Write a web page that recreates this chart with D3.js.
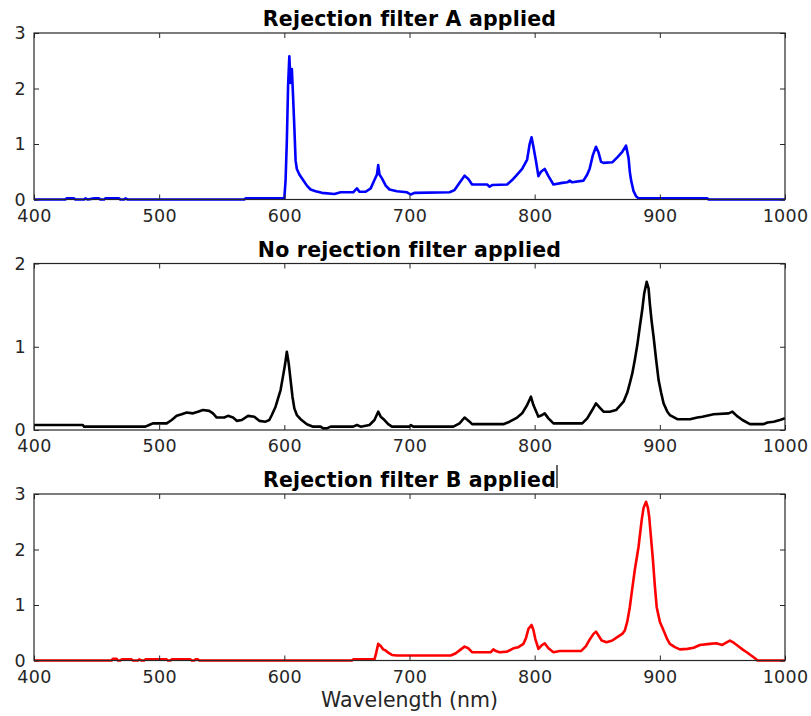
<!DOCTYPE html>
<html lang="en">
<head>
    <meta charset="UTF-8">
    <title>Rejection filters</title>
    <script src="https://d3js.org/d3.v7.min.js"></script>
    <style>
        body { margin: 0; background: #fff; }
        text { font-family: "DejaVu Sans", sans-serif; }
    </style>
</head>
<body>
    <svg width="811" height="716"></svg>

    <script>
    // x ticks shared by all three panels
    var xTicks = [400, 500, 600, 700, 800, 900, 1000]

    // panel 1 - rejection filter A (blue)
    var wlA = [400,425,426,432,433,440,441,443,448,452,453,456,457,468,469,472,473,475,568,569,600,
        601,602,603,604,605,606,607,608,609,610,612,615,618,621,625,630,640,645,655,658,660,665,669,
        672,674,675,676,678,681,684,690,698,701,704,732,736,740,744,747,750,762,764,766,778,782,786,
        790,794,796,797.5,799,801,803,805,808,811,815,822,826,828,830,839,842,844,846.5,849,851,853,
        855,862,866,870,873,875,876,877,879,881,883,938,939,1000]
    var valA = [0,0,0.02,0.02,0,0,0.02,0,0.02,0.02,0,0,0.02,0.02,0,0,0.02,0,0,0.02,0.02,
        0.35,1.05,2.05,2.58,2.1,2.35,1.85,1.3,0.7,0.55,0.45,0.35,0.25,0.18,0.15,0.12,0.1,0.13,0.13,0.2,0.14,0.14,0.2,
        0.35,0.45,0.62,0.45,0.38,0.25,0.18,0.15,0.13,0.09,0.12,0.13,0.17,0.3,0.43,0.37,0.27,0.27,0.23,0.26,0.27,0.35,0.45,
        0.55,0.72,1.0,1.12,0.95,0.7,0.42,0.5,0.55,0.42,0.27,0.3,0.31,0.34,0.31,0.34,0.45,0.56,0.8,0.95,0.85,0.68,
        0.66,0.67,0.76,0.86,0.97,0.75,0.5,0.35,0.15,0.06,0.02,0.02,0,0]
    var yTicksA = [0, 1, 2, 3]

    // panel 2 - no rejection filter (black)
    var wlN = [400,439,440,489,492,495,506,510,514,518,522,527,531,535,540,543,546,552,555,559,562,566,
        571,576,580,585,588,590,593,595,597,599,600.5,602,603.5,605,606.5,608,610,613,618,623,629,631,
        634,637,655,658,661,668,672,675,677,680,683,686,700,701,703,735,740,744,748,750,775,780,786,790,
        794,797,799,803,806,808,811,815,838,842,846,849,852,855,860,865,871,874,876,878,880,882,884,886,
        887.5,889.5,891,892,893.5,895,897,899,901,903,906,908,914,924,930,934,943,955,958,961.5,966,972,
        983,986,991,996,1000]
    var valN = [0.06,0.06,0.04,0.04,0.06,0.08,0.08,0.12,0.17,0.19,0.21,0.2,0.22,0.24,0.23,0.2,0.15,0.15,0.17,0.15,0.11,0.12,
        0.17,0.16,0.11,0.1,0.12,0.18,0.28,0.38,0.48,0.65,0.78,0.94,0.8,0.6,0.4,0.26,0.18,0.13,0.07,0.04,0.04,0.02,
        0.02,0.04,0.04,0.06,0.04,0.06,0.12,0.22,0.16,0.12,0.07,0.04,0.04,0.06,0.04,0.04,0.08,0.15,0.1,0.07,0.07,0.1,0.15,0.2,
        0.3,0.4,0.3,0.16,0.18,0.2,0.14,0.08,0.08,0.14,0.24,0.32,0.27,0.22,0.22,0.24,0.34,0.45,0.56,0.68,0.84,1.02,1.24,1.45,
        1.64,1.78,1.7,1.52,1.3,1.12,0.85,0.6,0.45,0.32,0.22,0.18,0.13,0.13,0.15,0.16,0.19,0.2,0.22,0.17,0.12,0.07,
        0.07,0.09,0.1,0.12,0.14]
    var yTicksN = [0, 1, 2]

    // panel 3 - rejection filter B (red)
    var wlB = [400,462,463,466,467,469,470,478,479,483,484,486,488,489,506,507,509,510,525,526,528,529,531,532,
        654,655,672,673,675,677,679,681,683,686,690,733,737,741,744,747,750,765,767,769,772,778,783,787,791,
        793,795,797.5,799,800.5,803,806,808,811,815,820,837,841,844,847,849,851,853.5,857.5,862,866,870,872,
        874,876,878,880,883,885.5,887,889,890.5,891.5,893,894.5,896,897.5,900,903,906,908,912,916,922,927,932,
        940,945,950,953,956,959,962,966,970,973,976,978,1000]
    var valB = [0,0,0.03,0.03,0,0,0.02,0.02,0,0,0.02,0,0,0.02,0.02,0,0,0.02,0.02,0,0,0.02,0.02,0,
        0,0.02,0.02,0.1,0.3,0.26,0.2,0.18,0.14,0.1,0.09,0.09,0.13,0.2,0.25,0.22,0.15,0.15,0.2,0.17,0.15,0.16,0.22,0.24,0.3,
        0.4,0.57,0.64,0.55,0.39,0.21,0.28,0.31,0.22,0.15,0.17,0.17,0.26,0.38,0.48,0.52,0.45,0.36,0.33,0.36,0.42,0.48,0.54,
        0.7,0.96,1.3,1.63,2.05,2.53,2.75,2.86,2.75,2.59,2.2,1.81,1.35,0.96,0.7,0.54,0.38,0.3,0.24,0.2,0.21,0.23,0.28,
        0.3,0.31,0.28,0.32,0.36,0.32,0.27,0.2,0.14,0.09,0.04,0,0]
    var yTicksB = [0, 1, 2, 3]

    var panels = [
        {title: "Rejection filter A applied", wl: wlA, val: valA, ticks: yTicksA, color: "#0000ff", top: 33},
        {title: "No rejection filter applied", wl: wlN, val: valN, ticks: yTicksN, color: "#000000", top: 263.5},
        {title: "Rejection filter B applied", wl: wlB, val: valB, ticks: yTicksB, color: "#ff0000", top: 494}
    ]

    var left = 34, right = 785, h = 166.5
    var axisColor = "#262626"
    var svg = d3.select("svg")

    var xscale = d3.scaleLinear().domain([400, 1000]).range([left, right])

    panels.forEach(function(p) {
        var yscale = d3.scaleLinear().domain([0, d3.max(p.ticks)]).range([p.top + h, p.top])
        var g = svg.append("g")

        // data line
        var pts = p.wl.map((w, i) => [w, p.val[i]])
        var line = d3.line().x(d => xscale(d[0])).y(d => yscale(d[1]))
        g.append("path").datum(pts)
            .attr("d", line)
            .attr("fill", "none")
            .attr("stroke", p.color)
            .attr("stroke-width", 2.6)
            .attr("stroke-linejoin", "round")

        // axes, ticks pointing inward like matlab
        var bottom = g.append("g").attr("transform", "translate(0," + yscale(0) + ")")
            .call(d3.axisBottom(xscale).tickValues(xTicks).tickSize(-5).tickPadding(10).tickFormat(d3.format("d")))
        var topAx = g.append("g").attr("transform", "translate(0," + p.top + ")")
            .call(d3.axisTop(xscale).tickValues(xTicks).tickSize(-5).tickFormat(""))
        var leftAx = g.append("g").attr("transform", "translate(" + left + ",0)")
            .call(d3.axisLeft(yscale).tickValues(p.ticks).tickSize(-5).tickPadding(8).tickFormat(d3.format("d")))
        var rightAx = g.append("g").attr("transform", "translate(" + right + ",0)")
            .call(d3.axisRight(yscale).tickValues(p.ticks).tickSize(-5).tickFormat(""))
        ;[bottom, topAx, leftAx, rightAx].forEach(a => {
            a.select(".domain").remove()
            a.selectAll("line").attr("stroke", axisColor)
            a.selectAll("text").attr("fill", axisColor)
                .style("font-size", "17.5px").style("letter-spacing", "0.3px")
        })

        g.append("rect")
            .attr("x", left).attr("y", p.top)
            .attr("width", right - left).attr("height", h)
            .attr("fill", "none").attr("stroke", axisColor).attr("stroke-width", 1.2)

        g.append("text")
            .attr("x", (left + right) / 2)
            .attr("y", p.top - 7)
            .attr("text-anchor", "middle")
            .style("font-size", "20.5px")
            .style("letter-spacing", "0.2px")
            .style("font-weight", "bold")
            .attr("fill", "#000")
            .text(p.title)
    })

    // the text cursor left behind after the last title
    svg.append("line")
        .attr("x1", 557).attr("x2", 557)
        .attr("y1", 465).attr("y2", 488)
        .attr("stroke", "#000").attr("stroke-width", 1.2)

    svg.append("text")
        .attr("x", (left + right) / 2)
        .attr("y", 707)
        .attr("text-anchor", "middle")
        .style("font-size", "20.5px")
        .attr("fill", axisColor)
        .text("Wavelength (nm)")
    </script>
</body>
</html>
